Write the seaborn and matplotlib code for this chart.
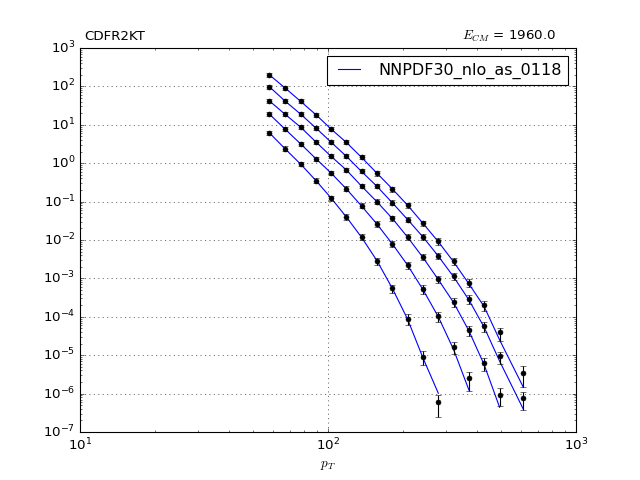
import numpy as np
import pandas as pd
import matplotlib
matplotlib.use("Agg")
import matplotlib.pyplot as plt
import seaborn as sns

# pT bin centres (GeV)
pt = [58, 67, 77.5, 89.5, 103, 118.5, 136.5, 157.5, 182, 209.5, 241.5,
      278.5, 321, 370, 426.5, 492, 613.5]

# measured points, one list per rapidity bin (scaled)
data_y1 = [202, 91, 41, 18, 7.6, 3.56, 1.43, 0.546, 0.213, 0.081, 0.0275,
           0.0092, 0.00284, 7.7e-4, 2.03e-4, 4.1e-5, 3.5e-6]
data_y2 = [98, 41.7, 19.1, 8.26, 3.56, 1.54, 0.615, 0.255, 0.093, 0.034,
           0.0122, 0.0039, 1.15e-3, 2.9e-4, 5.75e-5, 9.5e-6, 7.8e-7]
data_y3 = [42.4, 19.1, 8.77, 3.56, 1.51, 0.678, 0.255, 0.0996, 0.037, 0.012,
           0.0036, 9.6e-4, 2.47e-4, 4.5e-5, 6.4e-6, 9.2e-7]
data_y4 = [19.1, 7.78, 3.22, 1.31, 0.556, 0.217, 0.078, 0.0262, 0.0080,
           0.00223, 5.3e-4, 1.05e-4, 1.66e-5, 2.5e-6]
data_y5 = [6.22, 2.39, 0.953, 0.35, 0.124, 0.040, 0.0122, 0.0029, 5.6e-4,
           9.0e-5, 9.1e-6, 6.15e-7]

# relative errors (up / down)
err_up_y1 = [.12, .12, .12, .12, .12, .13, .13, .14, .15, .16, .17, .19, .21, .23, .25, .25, .52]
err_dn_y1 = [.11, .11, .11, .11, .11, .12, .12, .13, .14, .15, .16, .18, .20, .24, .30, .42, .58]
err_up_y2 = [.12, .12, .12, .12, .12, .13, .13, .14, .15, .16, .17, .19, .21, .24, .27, .30, .38]
err_dn_y2 = [.11, .11, .11, .11, .11, .12, .12, .13, .14, .15, .16, .18, .21, .25, .30, .38, .52]
err_up_y3 = [.12, .12, .12, .12, .13, .13, .14, .15, .16, .17, .19, .21, .24, .28, .35, .49]
err_dn_y3 = [.11, .11, .11, .11, .12, .12, .13, .14, .15, .16, .18, .21, .25, .30, .38, .49]
err_up_y4 = [.13, .13, .13, .13, .14, .15, .16, .17, .19, .21, .24, .28, .33, .43]
err_dn_y4 = [.12, .12, .12, .12, .13, .14, .15, .16, .18, .21, .25, .30, .37, .52]
err_up_y5 = [.14, .14, .14, .15, .16, .17, .18, .20, .22, .30, .40, .49]
err_dn_y5 = [.13, .13, .13, .14, .15, .16, .18, .21, .27, .32, .39, .59]

# NNPDF30_nlo_as_0118 prediction
theo_y1 = [200, 92, 41, 18.2, 7.7, 3.5, 1.42, 0.55, 0.212, 0.080, 0.0272,
           0.0090, 0.0027, 7.2e-4, 1.83e-4, 2.5e-5, 1.46e-6]
theo_y2 = [98, 42, 19, 8.2, 3.5, 1.52, 0.61, 0.25, 0.092, 0.034, 0.012,
           0.0038, 1.1e-3, 2.75e-4, 5.3e-5, 7.0e-6, 3.9e-7]
theo_y3 = [42, 19, 8.7, 3.55, 1.5, 0.67, 0.253, 0.099, 0.036, 0.0118, 0.0035,
           9.3e-4, 2.35e-4, 4.3e-5, 5.6e-6, 4.4e-7]
theo_y4 = [19, 7.8, 3.2, 1.3, 0.55, 0.215, 0.077, 0.026, 0.0078, 0.0022,
           5.1e-4, 1.0e-4, 1.4e-5, 1.24e-6]
theo_y5 = [6.2, 2.4, 0.95, 0.35, 0.123, 0.040, 0.0118, 0.0029, 5.4e-4,
           8.6e-5, 8.5e-6, 1.02e-6]

series = [
    (data_y1, err_up_y1, err_dn_y1, theo_y1),
    (data_y2, err_up_y2, err_dn_y2, theo_y2),
    (data_y3, err_up_y3, err_dn_y3, theo_y3),
    (data_y4, err_up_y4, err_dn_y4, theo_y4),
    (data_y5, err_up_y5, err_dn_y5, theo_y5),
]

plt.style.use('classic')
fig = plt.figure(figsize=(8, 6), dpi=80)
ax = fig.add_subplot(111)
ax.set_xscale('log')
ax.set_yscale('log')

for i, (dat, eup, edn, theo) in enumerate(series):
    n = len(dat)
    df = pd.DataFrame({'pt': pt[:n], 'theory': theo})
    sns.lineplot(data=df, x='pt', y='theory', ax=ax, color='b', linewidth=1,
                 label='NNPDF30_nlo_as_0118' if i == 0 else None, zorder=2)
    dat = np.array(dat)
    yerr = [dat * np.array(edn), dat * np.array(eup)]
    ax.errorbar(pt[:n], dat, yerr=yerr, fmt='o', color='k', ecolor='k',
                markersize=4.5, capsize=3, elinewidth=1, zorder=3)

ax.set_xlim(10, 1000)
ax.set_ylim(1e-7, 1e3)
ax.grid(True, which='major')
ax.set_xlabel('$p_T$')
ax.set_ylabel('')

# dataset name and energy above the frame
ax.text(0.008, 1.021, 'CDFR2KT', transform=ax.transAxes, fontsize=12,
        ha='left', va='baseline')
ax.text(0.96, 1.021, '$E_{CM}$ = 1960.0', transform=ax.transAxes, fontsize=12,
        ha='right', va='baseline')
ax.legend(loc='upper right', fontsize='large')

fig.savefig('out.png', dpi=80)
